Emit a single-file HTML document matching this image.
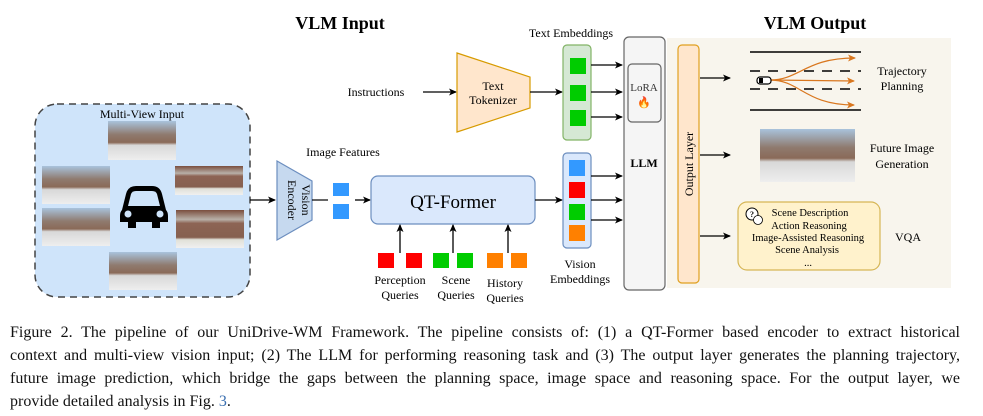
<!DOCTYPE html>
<html><head><meta charset="utf-8"><style>
html,body{margin:0;padding:0;background:#fff;}
body{width:983px;height:416px;position:relative;overflow:hidden;font-family:"Liberation Serif",serif;}
svg{position:absolute;left:0;top:0;}
svg text{font-family:"Liberation Serif",serif;}
.cap{position:absolute;left:10px;width:950px;font-size:16px;line-height:23px;color:#111;white-space:nowrap;}
.cl{display:block;text-align:justify;text-align-last:justify;white-space:normal;height:23px;}
.cl.last{text-align-last:left;}
</style></head><body>
<svg width="983" height="416" viewBox="0 0 983 416">
<defs>
<marker id="ah" markerWidth="8" markerHeight="8" refX="7" refY="4" orient="auto" markerUnits="userSpaceOnUse"><path d="M0,0.5 L8,4 L0,7.5 L2,4 Z" fill="#000"/></marker>
<marker id="oh" markerWidth="8" markerHeight="8" refX="7" refY="4" orient="auto" markerUnits="userSpaceOnUse"><path d="M0,0.5 L8,4 L0,7.5 L2,4 Z" fill="#d9771f"/></marker>
<linearGradient id="ph" x1="0" y1="0" x2="0" y2="1">
<stop offset="0" stop-color="#a9c3dc"/><stop offset="0.35" stop-color="#8f7a6e"/><stop offset="0.55" stop-color="#8a6a58"/><stop offset="0.62" stop-color="#d8d8d8"/><stop offset="1" stop-color="#eeeeee"/></linearGradient>
<linearGradient id="ph2" x1="0" y1="0" x2="0" y2="1">
<stop offset="0" stop-color="#7a4e3e"/><stop offset="0.25" stop-color="#b8b0a8"/><stop offset="0.35" stop-color="#8d6454"/><stop offset="0.72" stop-color="#866050"/><stop offset="0.78" stop-color="#e0e0d8"/><stop offset="1" stop-color="#f0f0f0"/></linearGradient>
</defs>
<!-- titles -->
<text x="340" y="29" font-size="18" font-weight="bold" text-anchor="middle">VLM Input</text>
<text x="815" y="29" font-size="18" font-weight="bold" text-anchor="middle">VLM Output</text>
<!-- multi view -->
<rect x="35" y="104" width="215" height="193" rx="22" fill="#cfe4fa" stroke="#444" stroke-width="1.5" stroke-dasharray="7,5"/>
<text x="142" y="118" font-size="12" text-anchor="middle">Multi-View Input</text>
<rect x="108" y="121" width="68" height="39" fill="url(#ph)"/>
<rect x="42" y="166" width="68" height="38" fill="url(#ph)"/>
<rect x="42" y="208" width="68" height="38" fill="url(#ph)"/>
<rect x="175" y="166" width="68" height="29" fill="url(#ph2)"/>
<rect x="176" y="210" width="68" height="38" fill="url(#ph2)"/>
<rect x="109" y="252" width="68" height="38" fill="url(#ph)"/>
<!-- car -->
<path d="M122,210 L126,194 Q128,186 136,186 L152,186 Q160,186 162,194 L166,210 Q168,212 168,216 L168,222 L160,222 L160,228 L152,228 L152,222 L136,222 L136,228 L128,228 L128,222 L120,222 L120,216 Q120,212 122,210 Z" fill="#000"/>
<path d="M128,206 L131,194 Q132,191 136,191 L152,191 Q156,191 157,194 L160,206 Z" fill="#cfe4fa"/>
<circle cx="128" cy="214" r="3.5" fill="#cfe4fa"/><circle cx="160" cy="214" r="3.5" fill="#cfe4fa"/>
<line x1="250" y1="200" x2="275" y2="200" stroke="#000" stroke-width="1.3" marker-end="url(#ah)"/>
<!-- vision encoder -->
<path d="M277,161 L312,181 L312,220 L277,240 Z" fill="#c6d9ef" stroke="#6c8ebf" stroke-width="1.2"/>
<text transform="translate(297,200) rotate(90)" font-size="12" text-anchor="middle"><tspan x="0" dy="-5">Vision</tspan><tspan x="0" dy="14">Encoder</tspan></text>
<line x1="312" y1="200" x2="328" y2="200" stroke="#000" stroke-width="1.2"/>
<text x="343" y="156" font-size="12" text-anchor="middle">Image Features</text>
<rect x="333" y="183" width="16" height="13" fill="#3399ff"/>
<rect x="333" y="204" width="16" height="15" fill="#3399ff"/>
<line x1="355" y1="200" x2="370" y2="200" stroke="#000" stroke-width="1.3" marker-end="url(#ah)"/>
<!-- QT former -->
<rect x="371" y="176" width="164" height="48" rx="7" fill="#dae8fc" stroke="#6c8ebf" stroke-width="1.2"/>
<text x="453" y="208" font-size="19" text-anchor="middle">QT-Former</text>
<line x1="535" y1="200" x2="562" y2="200" stroke="#000" stroke-width="1.3" marker-end="url(#ah)"/>
<g stroke="#000" stroke-width="1.3" marker-end="url(#ah)">
<line x1="400" y1="253" x2="400" y2="225"/><line x1="453" y1="253" x2="453" y2="225"/><line x1="508" y1="253" x2="508" y2="225"/></g>
<rect x="378" y="253" width="16" height="15" fill="#ff0000"/><rect x="406" y="253" width="16" height="15" fill="#ff0000"/>
<rect x="433" y="253" width="16" height="15" fill="#00cc00"/><rect x="457" y="253" width="16" height="15" fill="#00cc00"/>
<rect x="487" y="253" width="16" height="15" fill="#ff8000"/><rect x="511" y="253" width="16" height="15" fill="#ff8000"/>
<g font-size="12" text-anchor="middle">
<text x="400" y="284">Perception</text><text x="400" y="299">Queries</text>
<text x="456" y="284">Scene</text><text x="456" y="299">Queries</text>
<text x="505" y="287">History</text><text x="505" y="302">Queries</text>
<text x="580" y="268">Vision</text><text x="580" y="283">Embeddings</text>
<text x="376" y="96">Instructions</text>
<text x="571" y="37">Text Embeddings</text>
</g>
<!-- tokenizer -->
<line x1="423" y1="92" x2="456" y2="92" stroke="#000" stroke-width="1.3" marker-end="url(#ah)"/>
<path d="M457,53 L530,77 L530,108 L457,132 Z" fill="#ffe6cc" stroke="#d79b00" stroke-width="1.2"/>
<text x="493" y="90" font-size="12" text-anchor="middle">Text</text>
<text x="493" y="104" font-size="12" text-anchor="middle">Tokenizer</text>
<line x1="530" y1="92" x2="562" y2="92" stroke="#000" stroke-width="1.3" marker-end="url(#ah)"/>
<!-- text emb -->
<rect x="563" y="45" width="28" height="95" rx="4" fill="#d5e8d4" stroke="#82b366" stroke-width="1.2"/>
<rect x="570" y="58" width="16" height="16" fill="#00cc00"/><rect x="570" y="85" width="16" height="16" fill="#00cc00"/><rect x="570" y="110" width="16" height="16" fill="#00cc00"/>
<!-- vision emb -->
<rect x="563" y="153" width="28" height="95" rx="4" fill="#dae8fc" stroke="#6c8ebf" stroke-width="1.2"/>
<rect x="569" y="160" width="16" height="16" fill="#3399ff"/><rect x="569" y="182" width="16" height="16" fill="#ff0000"/><rect x="569" y="204" width="16" height="16" fill="#00cc00"/><rect x="569" y="225" width="16" height="16" fill="#ff8000"/>
<g stroke="#000" stroke-width="1.3" marker-end="url(#ah)">
<line x1="591" y1="65" x2="622" y2="65"/><line x1="591" y1="92" x2="622" y2="92"/><line x1="591" y1="117" x2="622" y2="117"/>
<line x1="591" y1="176" x2="622" y2="176"/><line x1="591" y1="200" x2="622" y2="200"/><line x1="591" y1="220" x2="622" y2="220"/></g>
<!-- LLM -->
<rect x="624" y="37" width="41" height="253" rx="5" fill="#f5f5f5" stroke="#666" stroke-width="1.2"/>
<rect x="628" y="64" width="33" height="58" rx="4" fill="#f5f5f5" stroke="#666" stroke-width="1.2"/>
<text x="644" y="91" font-size="11" text-anchor="middle" fill="#333">LoRA</text>
<text x="644" y="106" font-size="11" text-anchor="middle" fill="#e8501a">🔥</text>
<text x="644" y="167" font-size="12" font-weight="bold" text-anchor="middle">LLM</text>
<!-- output area -->
<rect x="667" y="38" width="284" height="250" fill="#f8f5ed"/>
<rect x="678" y="45" width="21" height="238" rx="4" fill="#ffe6cc" stroke="#e0a020" stroke-width="1.2"/>
<text transform="translate(693,164) rotate(-90)" font-size="12" text-anchor="middle">Output Layer</text>
<g stroke="#000" stroke-width="1.3" marker-end="url(#ah)">
<line x1="700" y1="78" x2="730" y2="78"/><line x1="700" y1="155" x2="730" y2="155"/><line x1="700" y1="236" x2="730" y2="236"/></g>
<!-- trajectory -->
<line x1="750" y1="52" x2="861" y2="52" stroke="#000" stroke-width="1.5"/>
<line x1="750" y1="110" x2="861" y2="110" stroke="#000" stroke-width="1.5"/>
<line x1="750" y1="71" x2="861" y2="71" stroke="#000" stroke-width="1.5" stroke-dasharray="10,8"/>
<line x1="750" y1="89" x2="861" y2="89" stroke="#000" stroke-width="1.5" stroke-dasharray="10,8"/>
<g fill="none" stroke="#d9771f" stroke-width="1.2" marker-end="url(#oh)">
<path d="M770,80 C800,80 805,58 855,58"/><path d="M770,80 L854,81"/><path d="M770,80 C800,80 805,105 854,105"/></g>
<rect x="757" y="77" width="14" height="7" rx="3" fill="#fff" stroke="#000" stroke-width="1.2"/>
<rect x="759" y="78" width="4" height="5" fill="#000"/>
<text x="902" y="75" font-size="12" text-anchor="middle">Trajectory</text>
<text x="902" y="90" font-size="12" text-anchor="middle">Planning</text>
<rect x="760" y="129" width="95" height="53" fill="url(#ph)"/>
<text x="902" y="152" font-size="12" text-anchor="middle">Future Image</text>
<text x="902" y="168" font-size="12" text-anchor="middle">Generation</text>
<!-- VQA -->
<rect x="738" y="202" width="142" height="68" rx="9" fill="#fff2cc" stroke="#d6b656" stroke-width="1.2"/>
<circle cx="752" cy="214" r="6" fill="#fff" stroke="#000" stroke-width="1"/><text x="752" y="217" font-size="8" font-weight="bold" text-anchor="middle">?</text>
<circle cx="758" cy="220" r="4.5" fill="#fff" stroke="#000" stroke-width="0.8"/>
<g font-size="10.5" text-anchor="middle">
<text x="810" y="216">Scene Description</text>
<text x="809" y="229">Action Reasoning</text>
<text x="808" y="241">Image-Assisted Reasoning</text>
<text x="807" y="253">Scene Analysis</text>
<text x="808" y="266">...</text></g>
<text x="908" y="241" font-size="12" text-anchor="middle">VQA</text>
</svg>
<div class="cap" style="top:321px">
<span class="cl">Figure 2. The pipeline of our UniDrive-WM Framework. The pipeline consists of: (1) a QT-Former based encoder to extract historical</span>
<span class="cl">context and multi-view vision input; (2) The LLM for performing reasoning task and (3) The output layer generates the planning trajectory,</span>
<span class="cl">future image prediction, which bridge the gaps between the planning space, image space and reasoning space. For the output layer, we</span>
<span class="cl last">provide detailed analysis in Fig. <span style="color:#3a6fb0">3</span>.</span>
</div>
</body></html>
